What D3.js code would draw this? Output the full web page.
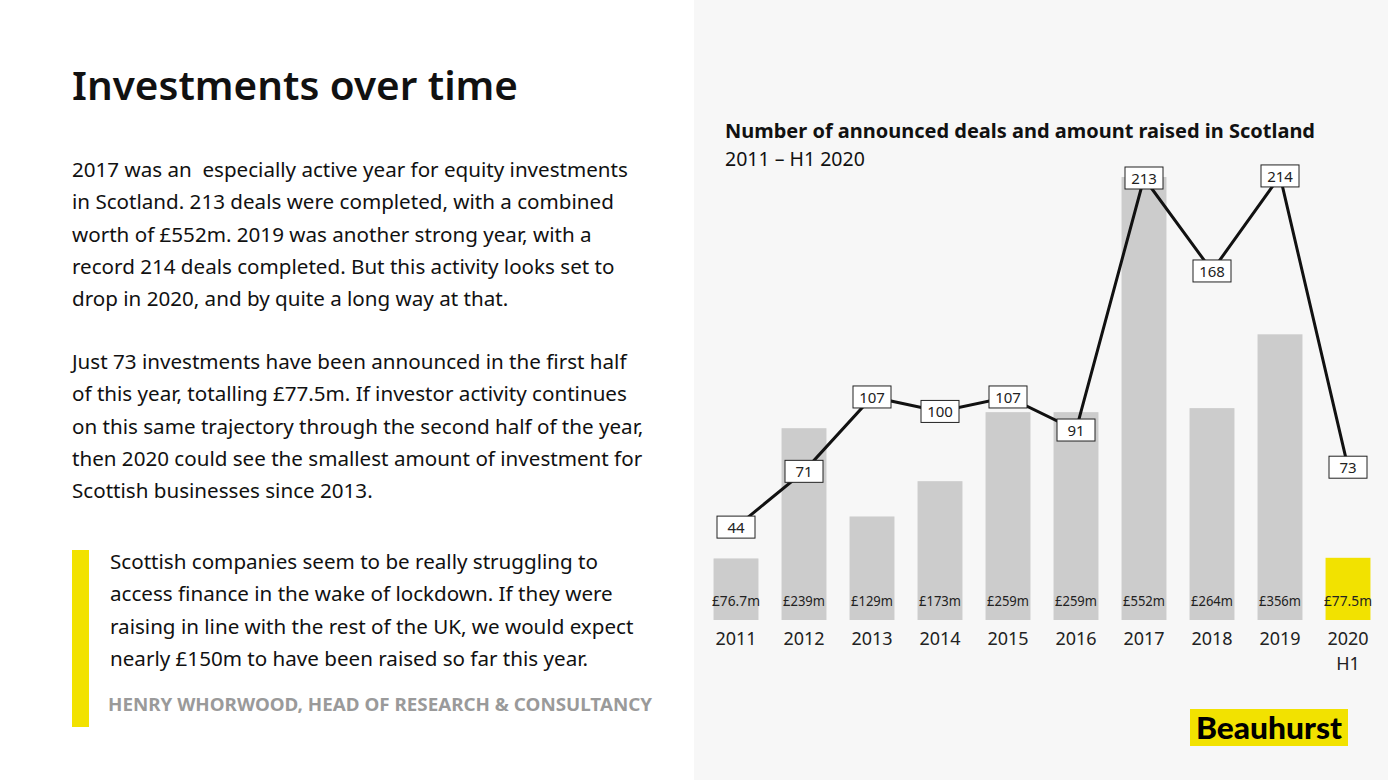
<!DOCTYPE html><html><head><meta charset="utf-8"><script src="https://cdn.jsdelivr.net/npm/d3@7"></script>
<style>body{margin:0}svg{display:block;font-family:"Noto Sans",sans-serif}text{white-space:pre}</style></head><body><svg id="c" width="1388" height="780"></svg><script>
const years=["2011","2012","2013","2014","2015","2016","2017","2018","2019","2020"];
const deals=[44,71,107,100,107,91,213,168,214,73];
const amounts=[76.7,239,129,173,259,259,552,264,356,77.5];
const amountLabels=["£76.7m","£239m","£129m","£173m","£259m","£259m","£552m","£264m","£356m","£77.5m"];
const body1=["2017 was an  especially active year for equity investments","in Scotland. 213 deals were completed, with a combined","worth of £552m. 2019 was another strong year, with a","record 214 deals completed. But this activity looks set to","drop in 2020, and by quite a long way at that."];
const body2=["Just 73 investments have been announced in the first half","of this year, totalling £77.5m. If investor activity continues","on this same trajectory through the second half of the year,","then 2020 could see the smallest amount of investment for","Scottish businesses since 2013."];
const quote=["Scottish companies seem to be really struggling to","access finance in the wake of lockdown. If they were","raising in line with the rest of the UK, we would expect","nearly £150m to have been raised so far this year."];
const svg=d3.select("#c");
svg.append("rect").attr("width",1388).attr("height",780).attr("fill","#fff");
svg.append("rect").attr("x",694).attr("width",694).attr("height",780).attr("fill","#f7f7f7");
svg.append("text").attr("x",72).attr("y",100).attr("font-size",40).attr("font-weight",600).attr("fill","#111").attr("textLength",446).attr("lengthAdjust","spacingAndGlyphs").text("Investments over time");
const para=(lines,y0,x,fs,col)=>lines.forEach((l,i)=>svg.append("text").attr("x",x).attr("y",y0+i*32.3).attr("font-size",fs).attr("fill",col).text(l));
para(body1,177,72,20.6,"#111");
para(body2,369,72,20.6,"#111");
svg.append("rect").attr("x",72).attr("y",550).attr("width",17).attr("height",177).attr("fill","#f2e200");
para(quote,569,110,20.6,"#111");
svg.append("text").attr("x",108).attr("y",711).attr("font-size",18.5).attr("font-weight",700).attr("fill","#9a9a9a").attr("textLength",544).attr("lengthAdjust","spacingAndGlyphs").text("HENRY WHORWOOD, HEAD OF RESEARCH & CONSULTANCY");
svg.append("text").attr("x",725).attr("y",138).attr("font-size",19.5).attr("font-weight",700).attr("fill","#111").attr("textLength",590).attr("lengthAdjust","spacingAndGlyphs").text("Number of announced deals and amount raised in Scotland");
svg.append("text").attr("x",725).attr("y",166).attr("font-size",19.5).attr("fill","#111").text("2011 – H1 2020");
const x=d3.scaleBand().domain(years).range([702,1382]).paddingInner(0.34).paddingOuter(0.17);
const ya=d3.scaleLinear().domain([0,552]).range([620,177]);
const yd=d3.scaleLinear().domain([0,213]).range([618,178]);
svg.selectAll(".b").data(years).join("rect").attr("x",d=>x(d)).attr("width",x.bandwidth())
 .attr("y",(d,i)=>ya(amounts[i])).attr("height",(d,i)=>620-ya(amounts[i]))
 .attr("fill",(d,i)=>i==9?"#f2e200":"#cccccc");
svg.selectAll(".al").data(years).join("text").attr("x",d=>x(d)+x.bandwidth()/2).attr("y",606).attr("text-anchor","middle")
 .attr("font-size",13.5).attr("fill","#222").attr("textLength",(d,i)=>i==9||i==0?48:42).attr("lengthAdjust","spacingAndGlyphs").text((d,i)=>amountLabels[i]);
svg.selectAll(".yl").data(years).join("text").attr("x",d=>x(d)+x.bandwidth()/2).attr("y",645).attr("text-anchor","middle")
 .attr("font-size",18).attr("fill","#222").text(d=>d);
svg.append("text").attr("x",x("2020")+x.bandwidth()/2).attr("y",670).attr("text-anchor","middle").attr("font-size",18).attr("fill","#222").text("H1");
const cx=d=>x(d)+x.bandwidth()/2;
svg.append("path").attr("d",d3.line().x((d,i)=>cx(years[i])).y(d=>yd(d))(deals)).attr("fill","none").attr("stroke","#111").attr("stroke-width",3);
const g=svg.selectAll(".dl").data(deals).join("g").attr("transform",(d,i)=>`translate(${cx(years[i])},${yd(d)})`);
g.append("rect").attr("x",-19).attr("y",-11).attr("width",38).attr("height",22).attr("fill","#fff").attr("stroke","#222").attr("stroke-width",1);
g.append("text").attr("y",6).attr("text-anchor","middle").attr("font-size",15).attr("fill","#222").text(d=>d);
svg.append("rect").attr("x",1190).attr("y",709).attr("width",158).attr("height",37).attr("fill","#f2e200");
svg.append("text").attr("x",1196).attr("y",739).attr("font-size",30).attr("font-weight",900).attr("font-family","Lato").attr("textLength",146).attr("lengthAdjust","spacingAndGlyphs").attr("fill","#000").text("Beauhurst");
</script></body></html>
